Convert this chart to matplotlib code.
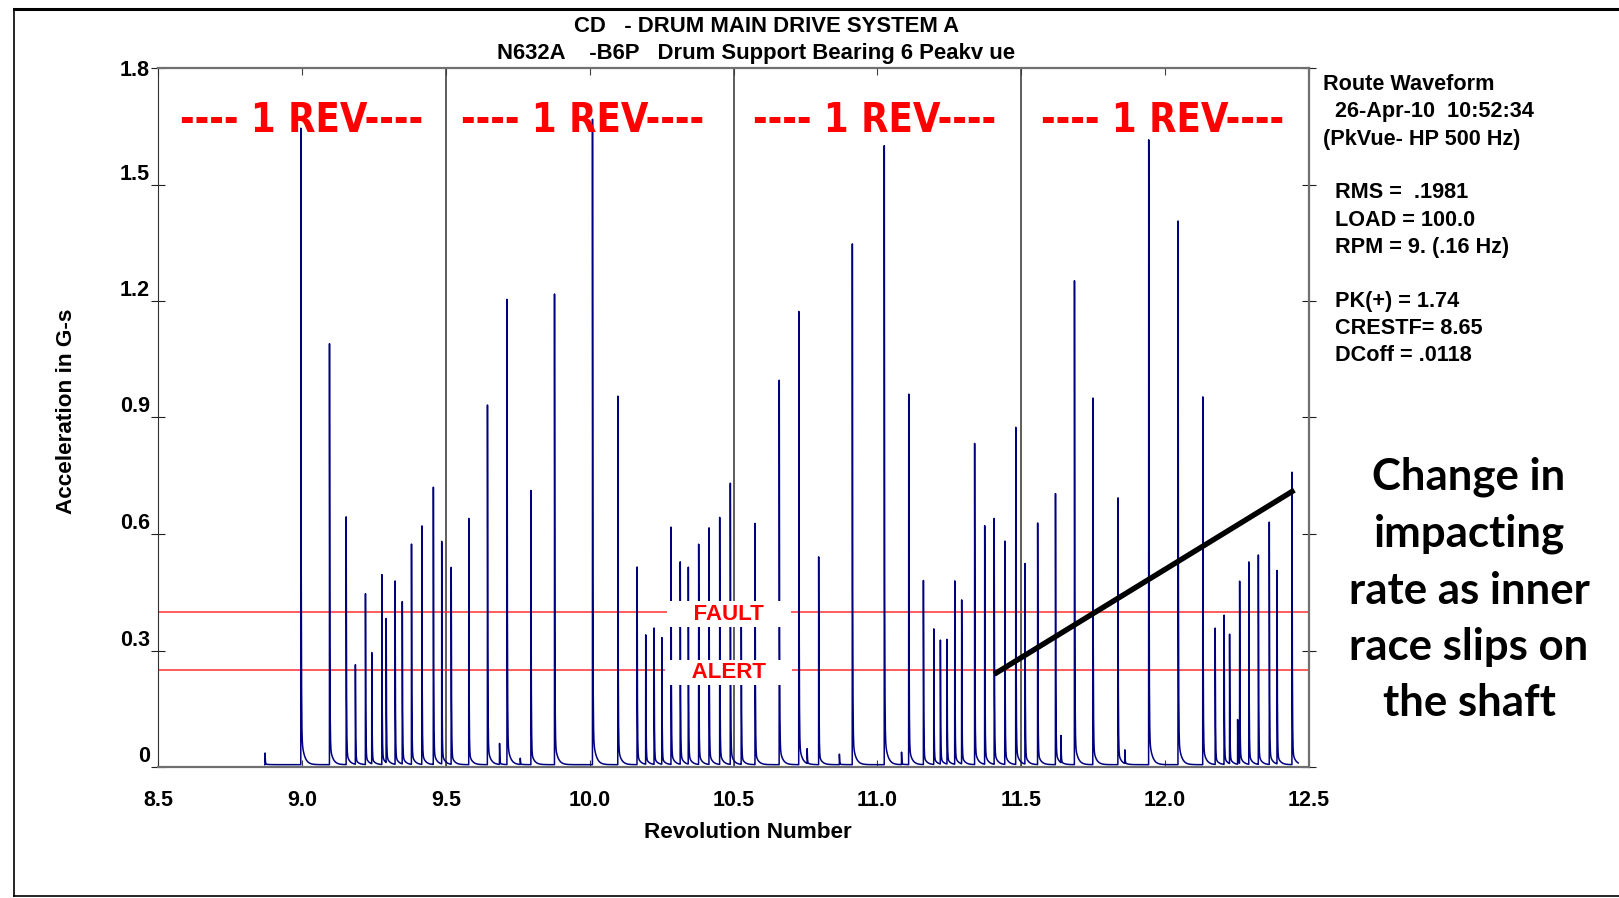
import numpy as np
import matplotlib.pyplot as plt
from matplotlib.lines import Line2D

# peak locations (revolution number) and peak heights (G-s)
peak_pos = [8.872, 8.9965, 9.096, 9.154, 9.186, 9.221, 9.243, 9.278, 9.293, 9.324,
            9.349, 9.381, 9.417, 9.457, 9.486, 9.519, 9.580, 9.645, 9.687, 9.713,
            9.759, 9.796, 9.878, 10.010, 10.098, 10.165, 10.195, 10.224, 10.251, 10.283,
            10.315, 10.343, 10.379, 10.415, 10.452, 10.489, 10.527, 10.575, 10.659, 10.727,
            10.756, 10.796, 10.868, 10.913, 11.024, 11.084, 11.109, 11.160, 11.196, 11.219,
            11.242, 11.269, 11.293, 11.338, 11.373, 11.406, 11.443, 11.481, 11.513, 11.557,
            11.619, 11.638, 11.685, 11.749, 11.836, 11.860, 11.943, 12.045, 12.131, 12.174,
            12.205, 12.224, 12.252, 12.259, 12.291, 12.324, 12.362, 12.389, 12.441]
peak_amp = [0.030, 1.639, 1.084, 0.638, 0.256, 0.440, 0.286, 0.489, 0.371, 0.472,
            0.418, 0.567, 0.614, 0.714, 0.573, 0.507, 0.634, 0.926, 0.054, 1.198,
            0.016, 0.706, 1.212, 1.662, 0.949, 0.509, 0.333, 0.351, 0.326, 0.611,
            0.521, 0.507, 0.567, 0.609, 0.636, 0.724, 0.405, 0.621, 0.990, 1.167,
            0.038, 0.535, 0.027, 1.341, 1.594, 0.032, 0.954, 0.474, 0.349, 0.319,
            0.321, 0.472, 0.422, 0.827, 0.614, 0.633, 0.575, 0.868, 0.516, 0.622,
            0.698, 0.070, 1.246, 0.944, 0.687, 0.035, 1.609, 1.400, 0.947, 0.351,
            0.384, 0.333, 0.115, 0.469, 0.521, 0.539, 0.624, 0.498, 0.753]
trace_start, trace_end = 8.871, 12.463
baseline = 0.006

fault_level = 0.40
alert_level = 0.25
rev_marks = [9.5, 10.5, 11.5]
rev_label_x = [9.0, 9.975, 10.99, 11.99]
trend_x = [11.406, 12.449]
trend_y = [0.239, 0.713]

x_ticks = [8.5, 9.0, 9.5, 10.0, 10.5, 11.0, 11.5, 12.0, 12.5]
x_labels = ["8.5", "9.0", "9.5", "10.0", "10.5", "11.0", "11.5", "12.0", "12.5"]
y_ticks = [0, 0.3, 0.6, 0.9, 1.2, 1.5, 1.8]
y_labels = ["0", "0.3", "0.6", "0.9", "1.2", "1.5", "1.8"]

info_lines = ["Route Waveform", "  26-Apr-10  10:52:34", "(PkVue- HP 500 Hz)",
              "  RMS =  .1981", "  LOAD = 100.0", "  RPM = 9. (.16 Hz)",
              "  PK(+) = 1.74", "  CRESTF= 8.65", "  DCoff = .0118"]
info_y_px = [85, 112, 139, 193, 220, 247, 301, 328, 355]

W, H = 1619, 898
fig = plt.figure(figsize=(W / 100, H / 100), dpi=100)
ax = fig.add_axes([158 / W, 1 - 767 / H, 1151 / W, 699 / H])

# build the peakvue time trace from the impacts
t = np.union1d(np.arange(trace_start, trace_end, 0.0004), peak_pos)
y = np.full_like(t, baseline)
for p, h in zip(peak_pos, peak_amp):
    dt = t - p
    m = dt >= 0
    y[m] += h * (0.95 * np.exp(-dt[m] / 0.0010) + 0.05 * np.exp(-dt[m] / 0.010))

ax.plot(t, y, color="#00007f", lw=1.1, zorder=2)

for xm in rev_marks:
    ax.axvline(xm, color="#505050", lw=1.3, zorder=1)
ax.axhline(fault_level, color="#ff3030", lw=1.1, zorder=1)
ax.axhline(alert_level, color="#ff3030", lw=1.1, zorder=1)

lab_font = dict(family="Liberation Sans", weight="bold", color="#ff0000", fontsize=16)
box = dict(facecolor="white", edgecolor="none", boxstyle="square,pad=0.1")
ax.text(10.484, fault_level, "    FAULT    ", ha="center", va="center_baseline", bbox=box, zorder=3, **lab_font)
ax.text(10.484, alert_level, "    ALERT    ", ha="center", va="center_baseline", bbox=box, zorder=3, **lab_font)

for xr in rev_label_x:
    ax.text(xr, 1.664, "---- 1 REV----", ha="center", va="center", color="#ff0000",
            fontsize=28.5, fontweight="bold", family="DejaVu Sans", fontstretch="condensed")

ax.plot(trend_x, trend_y, color="black", lw=3.9, solid_capstyle="butt", zorder=4)

ax.set_xlim(8.5, 12.5)
ax.set_ylim(0, 1.8)
tick_font = dict(family="Liberation Sans", weight="bold", size=15.5)
ax.set_xticks(x_ticks, x_labels, **tick_font)
ax.set_yticks(y_ticks, y_labels, **tick_font)
for lab in ax.get_yticklabels()[:-1]:
    lab.set_va("bottom")
ax.tick_params(axis="x", direction="in", length=5, top=True, bottom=True, pad=16.5, color="#404040")
ax.tick_params(axis="y", direction="inout", length=10, left=True, right=True, pad=1, color="#202020")
for side in ["top", "bottom", "right"]:
    ax.spines[side].set_color("#707070")
    ax.spines[side].set_linewidth(1.6)
ax.spines["left"].set_color("#303030")

label_font = dict(family="Liberation Sans", weight="bold", size=16.2)
ax.set_xlabel("Revolution Number", **label_font)
ax.xaxis.set_label_coords((748 - 158) / 1151, (767 - 832) / 699)
ax.xaxis.label.set_va("center")
ax.set_ylabel("Acceleration in G-s", **label_font)
ax.yaxis.set_label_coords((66 - 158) / 1151, (767 - 411) / 699)
ax.yaxis.label.set_va("center")

title_font = dict(family="Liberation Sans", weight="bold", size=15.9)
fig.text(767 / W, 1 - 26 / H, "CD   - DRUM MAIN DRIVE SYSTEM A", ha="center", va="center", **title_font)
fig.text(756 / W, 1 - 53 / H, "N632A    -B6P   Drum Support Bearing 6 Peakv ue", ha="center", va="center", **title_font)

for s, yp in zip(info_lines, info_y_px):
    fig.text(1323 / W, 1 - yp / H, s, ha="left", va="center", family="Liberation Sans",
             weight="bold", size=15.6)

fig.text(1469 / W, 1 - 590 / H, "Change in\nimpacting\nrate as inner\nrace slips on\nthe shaft",
         ha="center", va="center", multialignment="center", family="Lato", weight="bold",
         size=31.5, linespacing=1.5)

# outer frame of the slide
fig.add_artist(Line2D([13.5 / W, 1], [1 - 8.5 / H, 1 - 8.5 / H], color="black", lw=2.2))
fig.add_artist(Line2D([13.5 / W, 13.5 / W], [1 - 8.5 / H, 1 - 896 / H], color="black", lw=1.2))
fig.add_artist(Line2D([13.5 / W, 1], [1 - 896 / H, 1 - 896 / H], color="black", lw=1.2))

fig.savefig("out.png", dpi=100)
